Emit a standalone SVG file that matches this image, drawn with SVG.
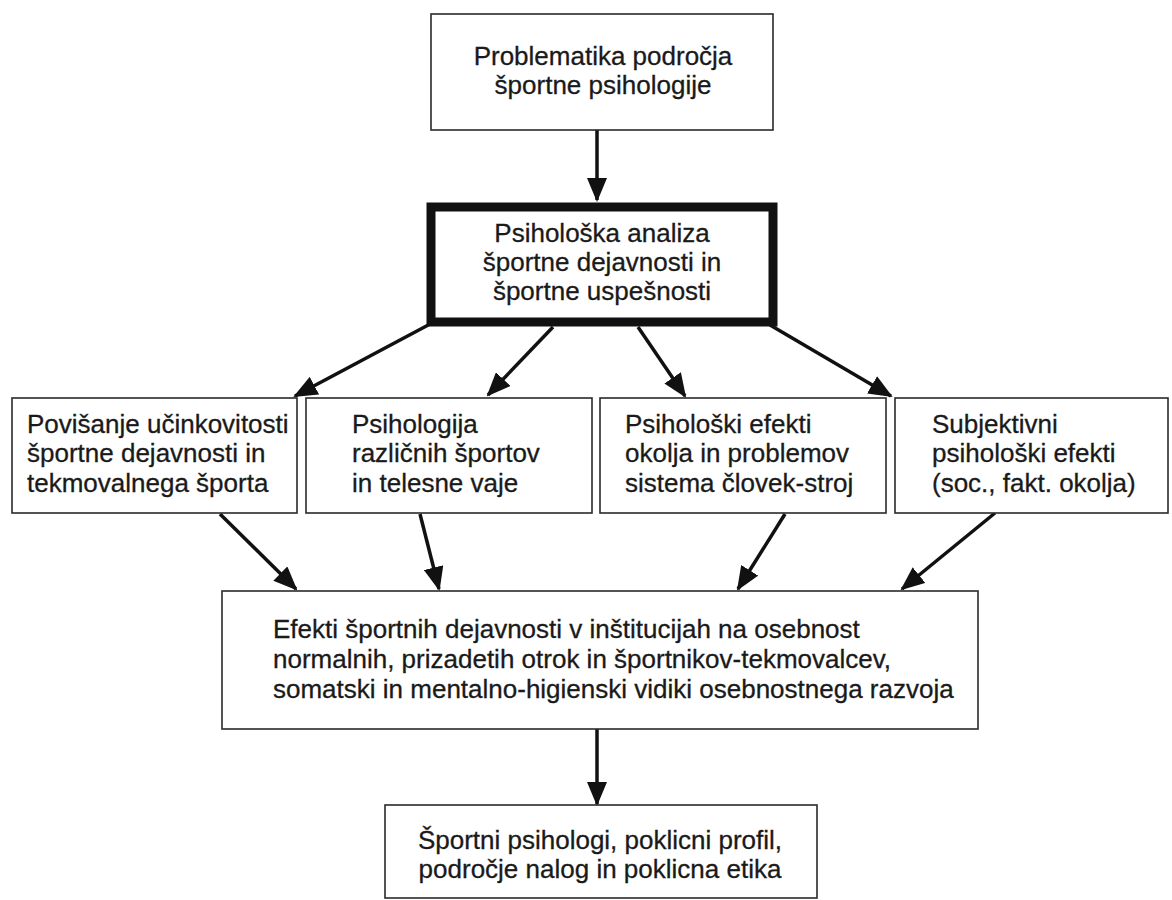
<svg xmlns="http://www.w3.org/2000/svg" width="1172" height="900" viewBox="0 0 1172 900">
<defs>
<style>
.box{fill:#fff;stroke:#2a2a2a;stroke-width:1.6}
.thick{fill:#fff;stroke:#111;stroke-width:9}
.t{font-family:"Liberation Sans",Arial,sans-serif;font-size:26px;fill:#1a1a1a;stroke:#1a1a1a;stroke-width:0.3}
.c{text-anchor:middle}
.ln{stroke:#111;stroke-width:3.5;fill:none;marker-end:url(#ah)}
</style>
<marker id="ah" markerUnits="userSpaceOnUse" markerWidth="24" markerHeight="20" refX="22" refY="10" orient="auto">
<path d="M0,0 L24,10 L0,20 z" fill="#111"/>
</marker>
</defs>
<rect width="1172" height="900" fill="#fff"/>
<g id="connectors">
<line class="ln" x1="597" y1="130" x2="597" y2="200"/>
<line class="ln" x1="432" y1="323" x2="295" y2="396"/>
<line class="ln" x1="553" y1="327" x2="488" y2="395"/>
<line class="ln" x1="638" y1="327" x2="685" y2="396"/>
<line class="ln" x1="770" y1="325" x2="891" y2="396"/>
<line class="ln" x1="220" y1="514" x2="296" y2="589"/>
<line class="ln" x1="420" y1="514" x2="439" y2="589"/>
<line class="ln" x1="785" y1="514" x2="738" y2="589"/>
<line class="ln" x1="995" y1="513" x2="902" y2="589"/>
<line class="ln" x1="597" y1="729" x2="597" y2="804"/>
</g>
<g id="n1">
<rect class="box" x="431" y="14" width="342" height="116"/>
<text class="t c" x="603" y="65">Problematika področja</text>
<text class="t c" x="603" y="94">športne psihologije</text>
</g>
<g id="n2">
<rect class="thick" x="431" y="207" width="342" height="115"/>
<text class="t c" x="602" y="242">Psihološka analiza</text>
<text class="t c" x="602" y="271">športne dejavnosti in</text>
<text class="t c" x="602" y="300">športne uspešnosti</text>
</g>
<g id="n3">
<rect class="box" x="12" y="398" width="285" height="115"/>
<text class="t" x="27" y="433">Povišanje učinkovitosti</text>
<text class="t" x="27" y="462">športne dejavnosti in</text>
<text class="t" x="27" y="492">tekmovalnega športa</text>
</g>
<g id="n4">
<rect class="box" x="306" y="398" width="286" height="115"/>
<text class="t" x="352" y="433">Psihologija</text>
<text class="t" x="352" y="462">različnih športov</text>
<text class="t" x="352" y="492">in telesne vaje</text>
</g>
<g id="n5">
<rect class="box" x="600" y="398" width="286" height="115"/>
<text class="t" x="625" y="433">Psihološki efekti</text>
<text class="t" x="625" y="462">okolja in problemov</text>
<text class="t" x="625" y="492">sistema človek-stroj</text>
</g>
<g id="n6">
<rect class="box" x="895" y="398" width="273" height="115"/>
<text class="t" x="932" y="433">Subjektivni</text>
<text class="t" x="932" y="462">psihološki efekti</text>
<text class="t" x="932" y="492">(soc., fakt. okolja)</text>
</g>
<g id="n7">
<rect class="box" x="222" y="591" width="756" height="138"/>
<text class="t" x="273" y="638">Efekti športnih dejavnosti v inštitucijah na osebnost</text>
<text class="t" x="273" y="668">normalnih, prizadetih otrok in športnikov-tekmovalcev,</text>
<text class="t" x="273" y="698">somatski in mentalno-higienski vidiki osebnostnega razvoja</text>
</g>
<g id="n8">
<rect class="box" x="385" y="805" width="432" height="93"/>
<text class="t c" x="600" y="849">Športni psihologi, poklicni profil,</text>
<text class="t c" x="600" y="878">področje nalog in poklicna etika</text>
</g>
</svg>
